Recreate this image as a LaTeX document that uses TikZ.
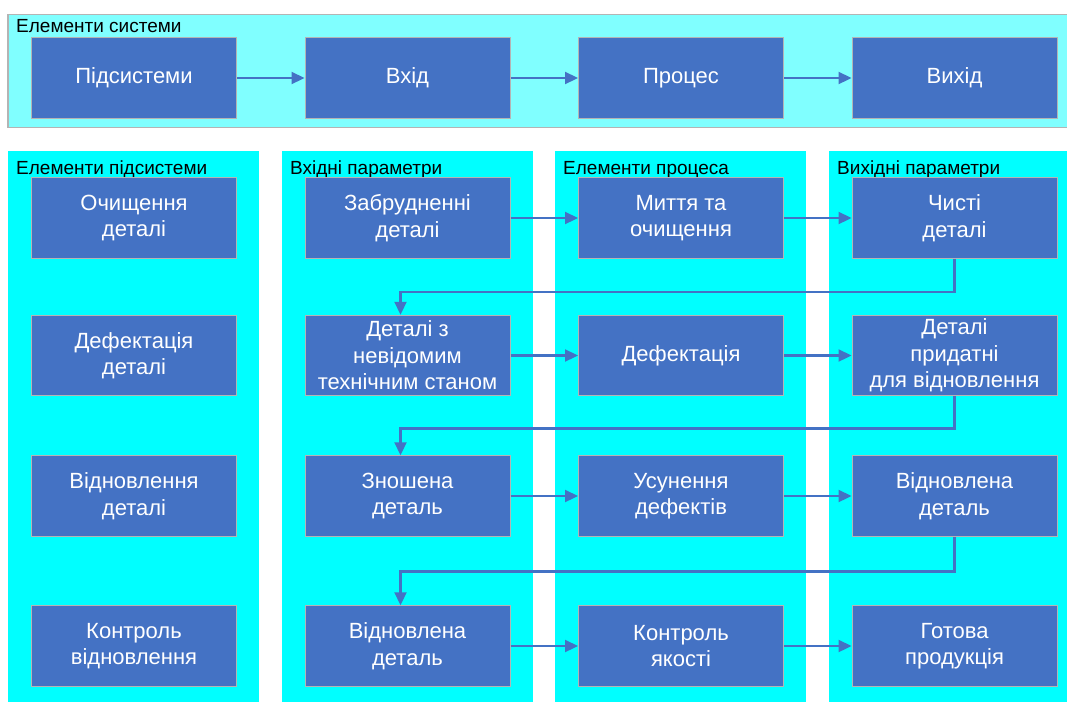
\documentclass[tikz,border=0pt]{standalone}
\usepackage{fontspec}
\setmainfont{Liberation Sans}
\usetikzlibrary{arrows.meta}
\definecolor{boxblue}{HTML}{4472C4}
\definecolor{panelcyan}{HTML}{80FFFF}
\definecolor{colcyan}{HTML}{00FFFF}
\definecolor{edgegray}{HTML}{B4B4B4}
\begin{document}
\begin{tikzpicture}[x=1pt,y=-1pt,
  blk/.style={draw=edgegray, line width=1pt, fill=boxblue, minimum width=205pt, minimum height=80.5pt, inner sep=0pt, text=white, align=center, font=\fontsize{22}{26.5}\selectfont},
  hdr/.style={anchor=base west, inner sep=0pt, font=\fontsize{19}{22}\selectfont},
  arr/.style={draw=boxblue, line width=2.2pt, -{Triangle[length=13pt,width=12pt]}}]
\useasboundingbox (0,0) rectangle (1067,702);
\fill[white] (0,0) rectangle (1067,702);
% top panel
\filldraw[fill=panelcyan, draw=edgegray, line width=1.5pt] (8,14.5) rectangle (1068,127.5);
\node[hdr] (topttl) at (16,32) {Елементи системи};
% columns
\fill[colcyan] (8,151) rectangle (259,702);
\fill[colcyan] (282,151) rectangle (533,702);
\fill[colcyan] (555,151) rectangle (806,702);
\fill[colcyan] (829,151) rectangle (1067,702);
\node[hdr] (h1) at (16,174) {Елементи підсистеми};
\node[hdr] (h2) at (290,174) {Вхідні параметри};
\node[hdr] (h3) at (563,174) {Елементи процеса};
\node[hdr] (h4) at (837,174) {Вихідні параметри};
% top boxes
\node[blk] (s1) at (134,78) {Підсистеми};
\node[blk] (s2) at (407.5,78) {Вхід};
\node[blk] (s3) at (681,78) {Процес};
\node[blk] (s4) at (954.5,78) {Вихід};
\draw[arr] (s1.east) -- (s2.west);
\draw[arr] (s2.east) -- (s3.west);
\draw[arr] (s3.east) -- (s4.west);
% column 1
\node[blk] (a1) at (134,218) {Очищення\\деталі};
\node[blk] (a2) at (134,355.5) {Дефектація\\деталі};
\node[blk] (a3) at (134,496) {Відновлення\\деталі};
\node[blk] (a4) at (134,646) {Контроль\\відновлення};
% column 2
\node[blk] (b1) at (407.5,218) {Забрудненні\\деталі};
\node[blk] (b2) at (407.5,355.5) {Деталі з\\невідомим\\технічним станом};
\node[blk] (b3) at (407.5,496) {Зношена\\деталь};
\node[blk] (b4) at (407.5,646) {Відновлена\\деталь};
% column 3
\node[blk] (c1) at (681,218) {Миття та\\очищення};
\node[blk] (c2) at (681,355.5) {Дефектація};
\node[blk] (c3) at (681,496) {Усунення\\дефектів};
\node[blk] (c4) at (681,646) {Контроль\\якості};
% column 4
\node[blk] (d1) at (954.5,218) {Чисті\\деталі};
\node[blk] (d2) at (954.5,355.5) {Деталі\\придатні\\для відновлення};
\node[blk] (d3) at (954.5,496) {Відновлена\\деталь};
\node[blk] (d4) at (954.5,646) {Готова\\продукція};
% row arrows
\draw[arr] (b1.east) -- (c1.west);
\draw[arr] (c1.east) -- (d1.west);
\draw[arr] (b2.east) -- (c2.west);
\draw[arr] (c2.east) -- (d2.west);
\draw[arr] (b3.east) -- (c3.west);
\draw[arr] (c3.east) -- (d3.west);
\draw[arr] (b4.east) -- (c4.west);
\draw[arr] (c4.east) -- (d4.west);
% feedback arrows
\coordinate (k1) at (400.5,292);
\coordinate (k2) at (400.5,428.5);
\coordinate (k3) at (400.5,571.5);
\draw[arr] (d1.south) |- (k1) -- (k1 |- b2.north);
\draw[arr] (d2.south) |- (k2) -- (k2 |- b3.north);
\draw[arr] (d3.south) |- (k3) -- (k3 |- b4.north);
\end{tikzpicture}
\end{document}
